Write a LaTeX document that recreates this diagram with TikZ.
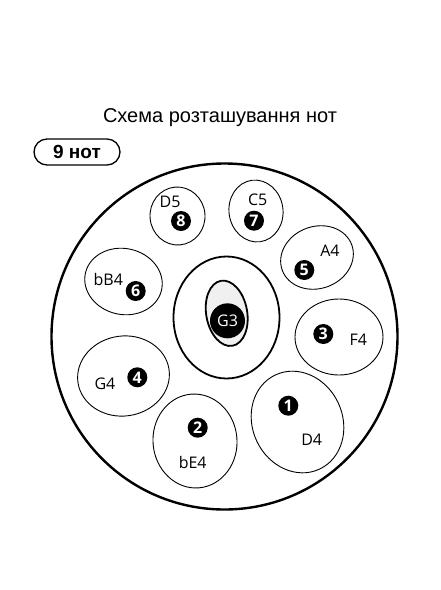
\documentclass[tikz,border=0pt]{standalone}
\usepackage{fontspec}
\setmainfont{Liberation Sans}
\newfontfamily\notefont{Open Sans}
\usetikzlibrary{shapes.geometric}
\usetikzlibrary{calc}

\tikzset{
	pad/.style={draw,ellipse,line width=0.9pt,inner sep=0pt},
	badge/.style={circle,fill=black,text=white,inner sep=0pt,minimum size=20pt,font=\notefont\fontsize{16}{16}\selectfont\bfseries},
	notename/.style={font=\notefont\fontsize{16}{16}\selectfont},
}

\begin{document}
\begin{tikzpicture}[x=1pt,y=-1pt]
					\useasboundingbox (0,0) rectangle (440,590);
					\node[anchor=base] (title) at (220,122.7) {\fontsize{20}{24}\selectfont Схема розташування нот};
					\node[draw,line width=1.3pt,rounded corners=13pt,minimum width=86pt,minimum height=26pt,inner sep=0pt,font=\fontsize{19}{20}\selectfont\bfseries] (count) at (77,152) {9 нот};
					\node[draw,circle,line width=2.4pt,minimum size=346pt,inner sep=0pt] (body) at (224.5,336.5) {};
					% centre field
					\node[draw,ellipse,line width=1.8pt,minimum width=106pt,minimum height=122pt,inner sep=0pt] (ding) at (226.5,317.5) {};
					\node[draw,ellipse,line width=1.8pt,fill=black!6,minimum width=41pt,minimum height=66pt,rotate=10,inner sep=0pt] (dingtop) at (226.7,313.3) {};
					\node[circle,fill=black,text=white,minimum size=35pt,inner sep=0pt,font=\notefont\fontsize{16}{16}\selectfont] (G3) at (227.5,320.8) {G3};
					% tone fields
					\foreach \num/\note/\cx/\cy/\w/\h/\rot/\bx/\by/\nx/\ny in {
						1/D4/297.5/422/90/104/25/288.3/405.7/311.7/440,
						2/bE4/195/441/84/94/5/197.7/427.7/192.7/462.7,
						3/F4/339/337/88/76/0/323.3/334/358.3/339.3,
						4/G4/123.5/376/92/80/8/137.3/377.3/105/383.3,
						5/A4/317/257.5/74/62/20/304.3/270/330/250.7,
						6/bB4/123.5/281.5/78/66/-12/135.7/291/108.3/279,
						7/C5/256/211/54/62/8/254/220.7/257.7/199.3,
						8/D5/177.5/216/55/58/5/181/221/170/201.7} {
						\node[pad,minimum width=\w,minimum height=\h,rotate=\rot] (pad\num) at (\cx,\cy) {};
						\node[badge] (num\num) at (\bx,\by) {\num};
						\node[notename] (note\num) at (\nx,\ny) {\note};
					}
				\end{tikzpicture}
\end{document}
